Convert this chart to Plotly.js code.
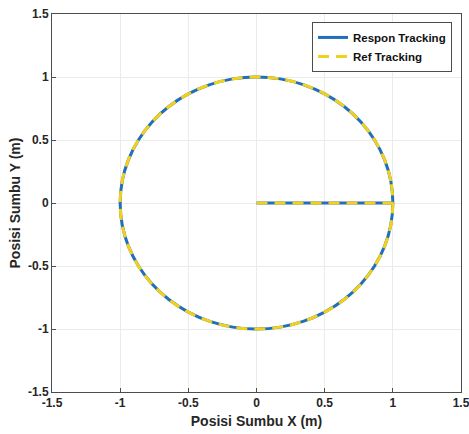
<!DOCTYPE html>
<html>
<head>
<meta charset="utf-8">
<script src="https://cdn.plot.ly/plotly-3.0.1.min.js"></script>
<style>html,body{margin:0;padding:0;background:#fff;}#chart{width:469px;height:434px;}</style>
</head>
<body>
<div id="chart"></div>
<script>
// Straight start segment (from origin to the circle)
const lineX = [0, 0.5, 1];
const lineY = [0, 0, 0];
// Circle of radius 1 (10-degree steps)
const circX = [1, 0.985, 0.940, 0.866, 0.766, 0.643, 0.5, 0.342, 0.174, 0, -0.174, -0.342, -0.5, -0.643, -0.766, -0.866, -0.940, -0.985, -1, -0.985, -0.940, -0.866, -0.766, -0.643, -0.5, -0.342, -0.174, 0, 0.174, 0.342, 0.5, 0.643, 0.766, 0.866, 0.940, 0.985, 1];
const circY = [0, 0.174, 0.342, 0.5, 0.643, 0.766, 0.866, 0.940, 0.985, 1, 0.985, 0.940, 0.866, 0.766, 0.643, 0.5, 0.342, 0.174, 0, -0.174, -0.342, -0.5, -0.643, -0.766, -0.866, -0.940, -0.985, -1, -0.985, -0.940, -0.866, -0.766, -0.643, -0.5, -0.342, -0.174, 0];
const seriesNames = ["Respon Tracking", "Ref Tracking"];
const tickVals = [-1.5, -1, -0.5, 0, 0.5, 1, 1.5];
const tickText = ["-1.5", "-1", "-0.5", "0", "0.5", "1", "1.5"];

const blue = "#1f6fbd";
const yellow = "#f2d01e";

const traces = [
  {x: lineX, y: lineY, mode: "lines", name: seriesNames[0], legendgroup: "a", showlegend: true,
   line: {color: blue, width: 3}},
  {x: circX, y: circY, mode: "lines", name: seriesNames[0], legendgroup: "a", showlegend: false,
   line: {color: blue, width: 3, shape: "spline"}},
  {x: lineX, y: lineY, mode: "lines", name: seriesNames[1], legendgroup: "b", showlegend: true,
   line: {color: yellow, width: 3, dash: "11px,7px"}},
  {x: circX, y: circY, mode: "lines", name: seriesNames[1], legendgroup: "b", showlegend: false,
   line: {color: yellow, width: 3, dash: "11px,7px", shape: "spline"}}
];

const axisCommon = {
  range: [-1.5, 1.5], tickvals: tickVals, ticktext: tickText,
  showgrid: true, gridcolor: "#ebebeb", gridwidth: 1,
  zeroline: false, showline: true, mirror: true, linecolor: "#4d4d4d", linewidth: 1,
  ticks: "inside", ticklen: 4, tickcolor: "#4d4d4d",
  ticklabeloverflow: "allow",
  tickfont: {family: "Liberation Sans, Arial, sans-serif", size: 12, color: "#262626", weight: "bold"}
};

const layout = {
  width: 469, height: 434,
  margin: {l: 52, r: 8, t: 14, b: 42},
  paper_bgcolor: "#ffffff", plot_bgcolor: "#ffffff",
  font: {family: "Liberation Sans, Arial, sans-serif", color: "#262626", weight: "bold"},
  xaxis: Object.assign({}, axisCommon, {
    title: {text: "Posisi Sumbu X (m)", font: {size: 14, weight: "bold", color: "#262626"}, standoff: 6}
  }),
  yaxis: Object.assign({}, axisCommon, {
    title: {text: "Posisi Sumbu Y (m)", font: {size: 14, weight: "bold", color: "#262626"}, standoff: 4}
  }),
  legend: {
    x: 0.978, y: 0.979, xanchor: "right", yanchor: "top",
    bgcolor: "#ffffff", bordercolor: "#4d4d4d", borderwidth: 1,
    font: {size: 11.5, weight: "bold", color: "#111"},
    tracegroupgap: 0, itemwidth: 30
  },
  showlegend: true
};

Plotly.newPlot("chart", traces, layout, {displayModeBar: false, staticPlot: true});
</script>
</body>
</html>
